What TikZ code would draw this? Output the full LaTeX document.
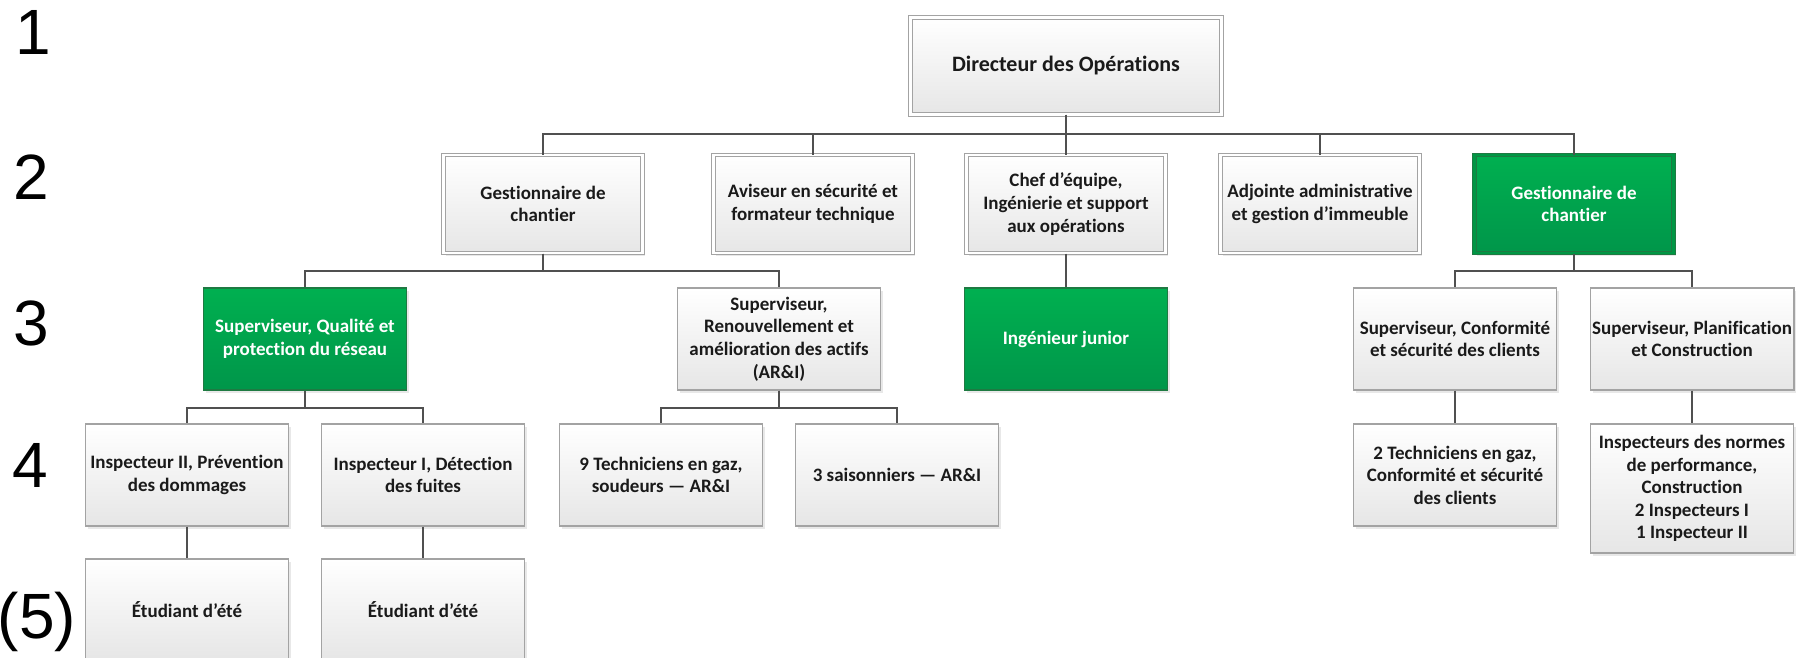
\documentclass[tikz,border=0pt]{standalone}
\usepackage{fontspec}
\setmainfont{Carlito}[Ligatures={NoCommon,NoContextual}]
\newfontfamily\arialfont{Liberation Sans}
\usetikzlibrary{shadows}
\definecolor{linegray}{HTML}{505050}
\definecolor{boxborder}{HTML}{A3A3A3}
\definecolor{boxbot}{HTML}{E6E6E6}
\definecolor{greentop}{HTML}{00B050}
\definecolor{greenbot}{HTML}{00964A}
\definecolor{greenborder}{HTML}{1E7A42}
\definecolor{txt}{HTML}{1A1A1A}
\begin{document}
\begin{tikzpicture}[x=1pt,y=-1pt,
  box/.style={rectangle, minimum width=203pt, minimum height=102pt, inner sep=2pt,
    align=center, font=\bfseries\fontsize{19}{22.6}\selectfont, text=txt,
    top color=white, bottom color=boxbot, draw=boxborder, line width=1.2pt,
    drop shadow={opacity=0.18, shadow xshift=2.5pt, shadow yshift=-2.5pt}},
  dbl/.style={minimum width=199pt, minimum height=98pt, line width=1pt,
    double=white, double distance=2.2pt},
  greenbox/.style={box, top color=greentop, bottom color=greenbot, draw=greenborder, text=white},
  conn/.style={draw=linegray, line width=2pt},
  lvl/.style={font=\arialfont\fontsize{64}{64}\selectfont, anchor=base, inner sep=0pt}
]
\useasboundingbox (0,0) rectangle (1806,658);
\clip (0,0) rectangle (1806,658);

% level labels
\node[lvl] (l1) at (33,55) {1};
\node[lvl] (l2) at (31,199) {2};
\node[lvl] (l3) at (31,345) {3};
\node[lvl] (l4) at (30,487) {4};
\node[lvl] (l5) at (37,638) {(5)};

% level 1
\node[box, dbl, minimum width=311pt, minimum height=97pt,
  font=\bfseries\fontsize{22}{26}\selectfont] (dir) at (1066,66) {Directeur des Opérations};

% level 2
\node[box, dbl] (g1) at (543,204) {Gestionnaire de\\chantier};
\node[box, dbl] (avis) at (813,204) {Aviseur en sécurité et\\formateur technique};
\node[box, dbl] (chef) at (1066,204) {Chef d’équipe,\\Ingénierie et support\\aux opérations};
\node[box, dbl] (adj) at (1320,204) {Adjointe administrative\\et gestion d’immeuble};
\node[greenbox, dbl, double=greentop!85!black] (g5) at (1574,204) {Gestionnaire de\\chantier};

% level 3
\node[greenbox] (qual) at (305,339) {Superviseur, Qualité et\\protection du réseau};
\node[box] (ari) at (779,339) {Superviseur,\\Renouvellement et\\amélioration des actifs\\(AR\&I)};
\node[greenbox] (jun) at (1066,339) {Ingénieur junior};
\node[box] (conf) at (1455,339) {Superviseur, Conformité\\et sécurité des clients};
\node[box] (plan) at (1692,339) {Superviseur, Planification\\et Construction};

% level 4
\node[box] (i2) at (187,475) {Inspecteur II, Prévention\\des dommages};
\node[box] (i1) at (423,475) {Inspecteur I, Détection\\des fuites};
\node[box] (t9) at (661,475) {9 Techniciens en gaz,\\soudeurs — AR\&I};
\node[box] (sais) at (897,475) {3 saisonniers — AR\&I};
\node[box] (t2) at (1455,475) {2 Techniciens en gaz,\\Conformité et sécurité\\des clients};
\node[box, minimum height=129pt] (insp) at (1692,488.5) {Inspecteurs des normes\\de performance,\\Construction\\2 Inspecteurs I\\1 Inspecteur II};

% level 5
\node[box] (e1) at (187,610) {Étudiant d’été};
\node[box] (e2) at (423,610) {Étudiant d’été};

% connectors
\foreach \c in {g1,avis,chef,adj,g5}
  \draw[conn] (dir.south) -- ++(0,19) -| (\c.north);
\foreach \c in {qual,ari}
  \draw[conn] (g1.south) -- ++(0,17) -| (\c.north);
\draw[conn] (chef.south) -- (jun.north);
\foreach \c in {conf,plan}
  \draw[conn] (g5.south) -- ++(0,17) -| (\c.north);
\foreach \c in {i2,i1}
  \draw[conn] (qual.south) -- ++(0,17) -| (\c.north);
\foreach \c in {t9,sais}
  \draw[conn] (ari.south) -- ++(0,17) -| (\c.north);
\draw[conn] (conf.south) -- (t2.north);
\draw[conn] (plan.south) -- (insp.north);
\draw[conn] (i2.south) -- (e1.north);
\draw[conn] (i1.south) -- (e2.north);
\end{tikzpicture}
\end{document}
